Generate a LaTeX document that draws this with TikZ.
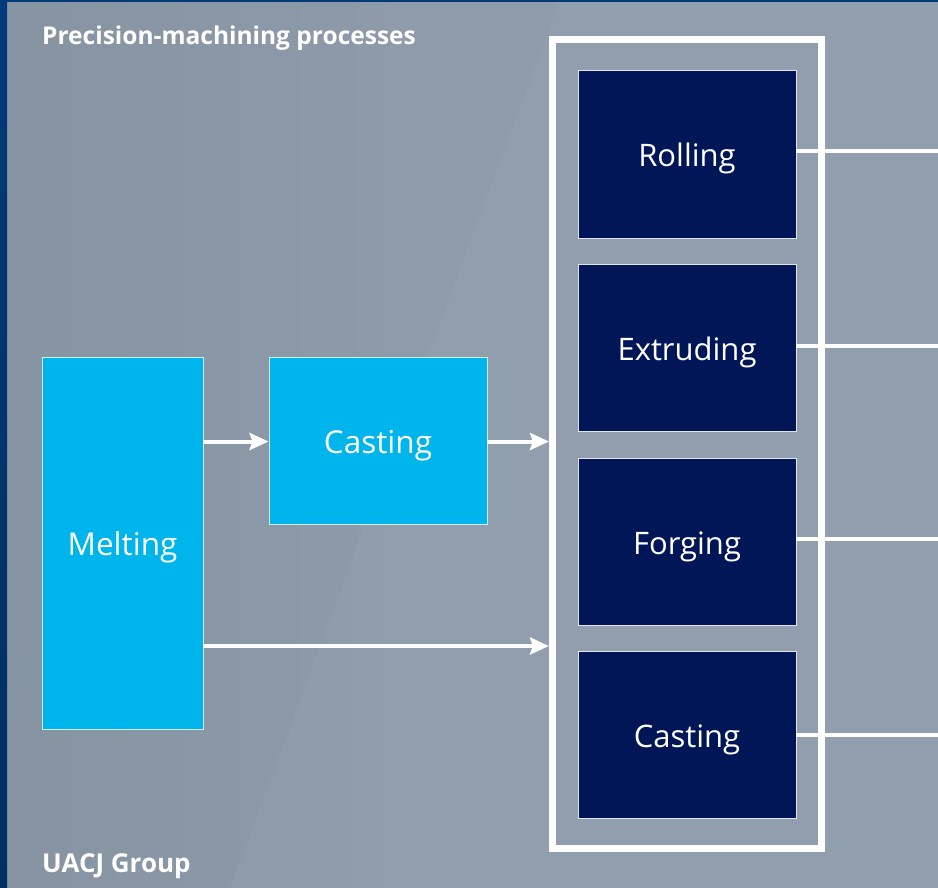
\documentclass[tikz,border=0pt]{standalone}
\usepackage{fontspec}
\setmainfont{Open Sans}
\usetikzlibrary{arrows.meta}
\definecolor{bggray}{HTML}{8D9BAA}
\definecolor{stripblue}{HTML}{003A78}
\definecolor{cyanbox}{HTML}{00B4EC}
\definecolor{navybox}{HTML}{001657}
\tikzset{
  cyanstep/.style={draw=white!80!cyanbox, line width=0.9pt, fill=cyanbox, text=white, font=\fontsize{31.5}{36}\selectfont, inner sep=0pt, text height=25pt, text depth=0pt},
  navystep/.style={draw=white!75!bggray, line width=0.9pt, fill=navybox, text=white, font=\fontsize{31}{36}\selectfont, inner sep=0pt, text height=25pt, text depth=0pt},
  flow/.style={draw=white, line width=4pt, -{Stealth[length=19pt,width=17pt,inset=3pt]}},
  outline/.style={draw=white, line width=3.5pt},
  caption/.style={anchor=base west, text=white, font=\bfseries\fontsize{24.5}{28}\selectfont, inner sep=0pt}
}
\begin{document}
\begin{tikzpicture}[x=1pt,y=-1pt]
\useasboundingbox (0,0) rectangle (938,888);
% background
\fill[bggray] (0,0) rectangle (938,888);
\shade[left color=black!8!bggray, right color=bggray, opacity=0.5] (7,0) rectangle (400,888);
\fill[white, opacity=0.035] (230,888) -- (560,0) -- (938,0) -- (938,888) -- cycle;
\fill[stripblue] (0,0) rectangle (938,2);
\shade[top color=stripblue, bottom color=stripblue!80!black] (0,0) rectangle (7,888);
% texts
\node[caption] (title) at (42,45) {Precision-machining processes};
\node[caption, font=\bfseries\fontsize{26}{30}\selectfont] (group) at (42,872.5) {UACJ Group};
% left boxes
\node[cyanstep, minimum width=161pt, minimum height=372pt] (melt) at (122.5,543) {Melting};
\node[cyanstep, minimum width=218pt, minimum height=167pt] (cast) at (378,440.5) {Casting};
% frame
\node[draw=white, line width=7pt, minimum width=268.5pt, minimum height=808pt, inner sep=0pt] (frame) at (686.75,444) {};
% dark boxes
\node[navystep, minimum width=218pt, minimum height=168pt] (roll) at (687,154) {Rolling};
\node[navystep, minimum width=218pt, minimum height=167pt] (extr) at (687,347.5) {Extruding};
\node[navystep, minimum width=218pt, minimum height=167pt] (forg) at (687,541.5) {Forging};
\node[navystep, minimum width=218pt, minimum height=167pt] (cast2) at (687,734.5) {Casting};
% right exits
\coordinate (e1) at (938,151);
\coordinate (e2) at (938,346);
\coordinate (e3) at (938,539);
\coordinate (e4) at (938,735);
\draw[outline] (roll.east |- e1) -- (e1);
\draw[outline] (extr.east |- e2) -- (e2);
\draw[outline] (forg.east |- e3) -- (e3);
\draw[outline] (cast2.east |- e4) -- (e4);
% arrows
\coordinate (a1) at (203,441.5);
\coordinate (a2) at (549,441.5);
\coordinate (a3) at (549,646);
\draw[flow] (melt.east |- a1) -- (cast.west |- a1);
\draw[flow] (cast.east |- a1) -- (a2);
\draw[flow] (melt.east |- a3) -- (a3);
\end{tikzpicture}
\end{document}
